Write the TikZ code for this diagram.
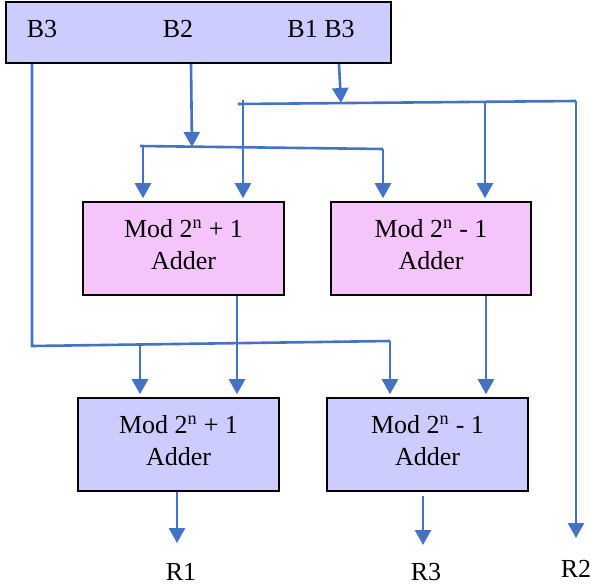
\documentclass[tikz,border=0pt]{standalone}
\usepackage{fontspec}
\setmainfont{Liberation Serif}
\usetikzlibrary{arrows.meta}
\definecolor{boxblue}{HTML}{CCCCFF}
\definecolor{boxpink}{HTML}{F5C4FA}
\definecolor{wireblue}{HTML}{4472C4}
\begin{document}
\begin{tikzpicture}[x=1pt,y=-1pt,
  every node/.style={font=\fontsize{26}{32}\selectfont},
  blk/.style={draw=black,line width=1.6pt,inner sep=0pt},
  txt/.style={align=center,inner sep=0pt,yshift=4pt},
  wire/.style={draw=wireblue,line width=2.6pt},
  arr/.style={wire,-{Triangle[width=16pt,length=15pt]}},
  gap/.style={shorten >=3pt}]
\useasboundingbox (0,0) rectangle (590,587);
% boxes
\node[blk,fill=boxblue,minimum width=385pt,minimum height=61pt] (top) at (198.5,32.5) {};
\node[anchor=base] (tB3) at (42,37) {B3};
\node[anchor=base] (tB2) at (178,37) {B2};
\node[anchor=base] (tB1) at (321,37) {B1 B3};
\node[blk,fill=boxpink,minimum width=201pt,minimum height=93pt] (a1) at (183.5,248.5) {};
\node[txt] (a1t) at (a1) {Mod 2\textsuperscript{n} + 1\\Adder};
\node[blk,fill=boxpink,minimum width=200pt,minimum height=93pt] (a2) at (431,248.5) {};
\node[txt] (a2t) at (a2) {Mod 2\textsuperscript{n} - 1\\Adder};
\node[blk,fill=boxblue,minimum width=201pt,minimum height=93pt] (b1) at (178.5,444.5) {};
\node[txt] (b1t) at (b1) {Mod 2\textsuperscript{n} + 1\\Adder};
\node[blk,fill=boxblue,minimum width=201pt,minimum height=93pt] (b2) at (427.5,444.5) {};
\node[txt] (b2t) at (b2) {Mod 2\textsuperscript{n} - 1\\Adder};
\node[anchor=base] (R1) at (181,580) {R1};
\node[anchor=base] (R3) at (426,580) {R3};
\node[anchor=base] (R2) at (576,577) {R2};
% coordinates
\coordinate (b3a) at (32,346);
\coordinate (b3b) at (390,341);
\coordinate (b3j) at (140,345.5);
\coordinate (b2j) at (192,147);
\coordinate (h2l) at (140,146);
\coordinate (h2r) at (383,149);
\coordinate (d1) at (143,146.5);
\coordinate (b1j) at (341,103);
\coordinate (h1l) at (238,104);
\coordinate (h1r) at (576,101);
\coordinate (e1) at (243,100);
\coordinate (e2) at (485,102);
\coordinate (r2e) at (576,538);
\coordinate (o1) at (177,543);
\coordinate (o3) at (423,545);
% B3 wiring
\draw[wire] (top.south -| b3a) -- (b3a) -- (b3b);
\draw[arr,gap] (b3b) -- (b3b |- b2.north);
\draw[arr,gap] (b3j) -- (b3j |- b1.north);
% B2 wiring
\draw[arr] (top.south -| 191,0) -- (b2j);
\draw[wire] (h2l) -- (h2r);
\draw[arr,gap] (d1) -- (d1 |- a1.north);
\draw[arr,gap] (h2r) -- (h2r |- a2.north);
% B1 B3 wiring
\draw[arr] (top.south -| 339,0) -- (b1j);
\draw[wire] (h1l) -- (h1r);
\draw[arr,gap] (e1) -- (e1 |- a1.north);
\draw[arr,gap] (e2) -- (e2 |- a2.north);
\draw[arr] (h1r) -- (r2e);
% adder outputs
\draw[arr,gap] (a1.south -| 237,0) -- (237,0 |- b1.north);
\draw[arr,gap] (a2.south -| 486,0) -- (486,0 |- b2.north);
\draw[arr] (b1.south -| o1) -- (o1);
\draw[arr] ([yshift=-4pt]b2.south -| o3) -- (o3);
\end{tikzpicture}
\end{document}
